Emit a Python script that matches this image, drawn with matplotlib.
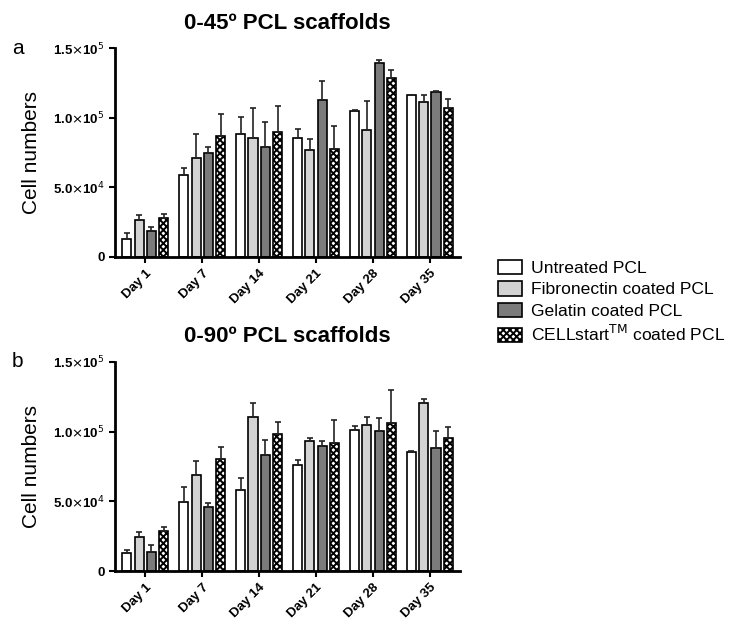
import numpy as np
import matplotlib.pyplot as plt
from matplotlib.patches import Patch

plt.rcParams['font.family'] = ['Liberation Sans', 'DejaVu Sans']
plt.rcParams['hatch.linewidth'] = 1.4

days = ['Day 1', 'Day 7', 'Day 14', 'Day 21', 'Day 28', 'Day 35']
series = ['Untreated PCL', 'Fibronectin coated PCL', 'Gelatin coated PCL',
          'CELLstart$^{\\mathrm{TM}}$ coated PCL']

# 0-45 scaffolds: mean values and upper error bars (SD)
a_untreated = [12900, 58700, 88600, 85400, 104900, 116000]
a_fibro = [26200, 71100, 85700, 76700, 91300, 111200]
a_gelatin = [18400, 75000, 79100, 112400, 139300, 118400]
a_cellstart = [27700, 87100, 89600, 77400, 128400, 107300]
a_untreated_err = [4600, 4900, 11600, 6800, 700, 600]
a_fibro_err = [4100, 17000, 21300, 7800, 20600, 4800]
a_gelatin_err = [3200, 3900, 18000, 14100, 2200, 1000]
a_cellstart_err = [3300, 15300, 18700, 16500, 5600, 6000]

# 0-90 scaffolds
b_untreated = [13000, 49500, 58200, 76100, 101400, 85500]
b_fibro = [24200, 69300, 110600, 93200, 104600, 120800]
b_gelatin = [14000, 45700, 83300, 89400, 100500, 88200]
b_cellstart = [28500, 80700, 98300, 91800, 106000, 95400]
b_untreated_err = [2000, 10900, 8700, 3400, 2500, 1000]
b_fibro_err = [3600, 9400, 9900, 2500, 5800, 2900]
b_gelatin_err = [5100, 3100, 10900, 3800, 9200, 12500]
b_cellstart_err = [3400, 8400, 8700, 16400, 24200, 7700]

faces = ['white', '#d3d3d3', '#7b7b7b', 'white']
hatches = [None, None, None, 'xxxxx']

fig = plt.figure(figsize=(7.29, 6.25), dpi=100)
ax_a = fig.add_axes([0.158, 0.589, 0.473, 0.334])
ax_b = fig.add_axes([0.158, 0.086, 0.473, 0.335])

panels = [
    (ax_a, '0-45º PCL scaffolds', 'a',
     [a_untreated, a_fibro, a_gelatin, a_cellstart],
     [a_untreated_err, a_fibro_err, a_gelatin_err, a_cellstart_err]),
    (ax_b, '0-90º PCL scaffolds', 'b',
     [b_untreated, b_fibro, b_gelatin, b_cellstart],
     [b_untreated_err, b_fibro_err, b_gelatin_err, b_cellstart_err]),
]

x = np.arange(len(days))
pitch = 0.216
width = 0.16
for ax, title, letter, vals, errs in panels:
    for i in range(4):
        pos = x + (i - 1.5) * pitch
        ax.bar(pos, vals[i], width, color=faces[i], edgecolor='black',
               linewidth=1.2, hatch=hatches[i], zorder=2)
        ax.errorbar(pos, vals[i], yerr=[np.zeros(len(days)), errs[i]],
                    fmt='none', ecolor='#222222', elinewidth=1.2,
                    capsize=2.5, capthick=1.2, zorder=3)
    ax.set_xlim(-0.53, 5.53)
    ax.set_ylim(0, 150000)
    ax.set_yticks([0, 50000, 100000, 150000])
    ax.set_yticklabels(['0', r'5.0$\times$10$^4$', r'1.0$\times$10$^5$',
                        r'1.5$\times$10$^5$'], fontsize=9.5, fontweight='bold')
    ax.set_xticks(x)
    ax.set_xticklabels(days, rotation=45, ha='right', rotation_mode='anchor',
                       fontsize=9.5, fontweight='bold')
    for s in ['top', 'right']:
        ax.spines[s].set_visible(False)
    for s in ['left', 'bottom']:
        ax.spines[s].set_linewidth(2)
    ax.tick_params(width=1.5, length=4)
    ax.set_ylabel('Cell numbers', fontsize=15, labelpad=9)
    ax.set_title(title, fontsize=16, fontweight='bold', pad=14)
    ax.text(-0.3, 1.0, letter, transform=ax.transAxes, fontsize=15,
            va='center', ha='left')

handles = [Patch(facecolor=faces[i], edgecolor='black', hatch=hatches[i],
                 linewidth=1.2) for i in range(4)]
fig.legend(handles, series, loc='center left', bbox_to_anchor=(0.666, 0.517),
           frameon=False, fontsize=12.6, handlelength=1.4, handleheight=0.9,
           labelspacing=0.3, handletextpad=0.5, borderpad=0.2)

fig.savefig('out.png', dpi=100)
